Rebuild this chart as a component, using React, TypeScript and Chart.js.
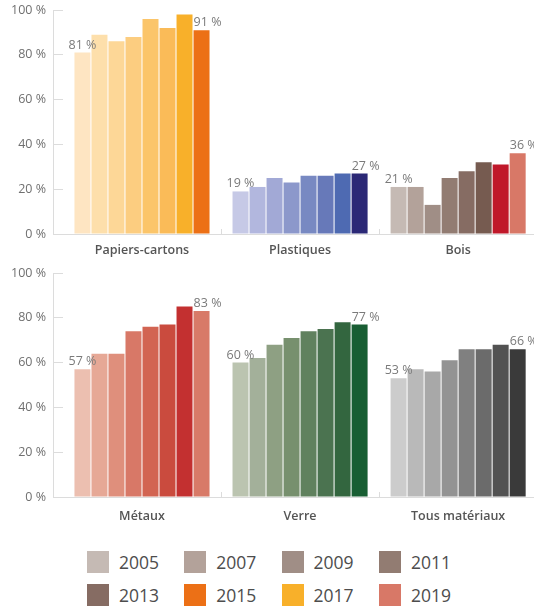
import React, { useEffect, useRef } from 'react';
import { Chart, registerables } from 'chart.js';

Chart.register(...registerables);

const YEARS = ['2005', '2007', '2009', '2011', '2013', '2015', '2017', '2019'];
const TOP_CATEGORIES = ['Papiers-cartons', 'Plastiques', 'Bois'];
const BOTTOM_CATEGORIES = ['Métaux', 'Verre', 'Tous matériaux'];

const PAPIERS = [81, 89, 86, 88, 96, 92, 98, 91];
const PLASTIQUES = [19, 21, 25, 23, 26, 26, 27, 27];
const BOIS = [21, 21, 13, 25, 28, 32, 31, 36];
const METAUX = [57, 64, 64, 74, 76, 77, 85, 83];
const VERRE = [60, 62, 68, 71, 74, 75, 78, 77];
const TOUS = [53, 57, 56, 61, 66, 66, 68, 66];

const Y_TICKS = [0, 20, 40, 60, 80, 100];

const PAPIERS_COLORS = ['#fee5c2', '#fddfab', '#fdd797', '#fccd80', '#fbc56a', '#fabb58', '#f8b02a', '#ec7016'];
const PLASTIQUES_COLORS = ['#c6c9e6', '#b2b7de', '#a2a9d6', '#8c98cb', '#7889c2', '#6779b9', '#4e6ab2', '#2b2876'];
const BOIS_COLORS = ['#c5bab4', '#b3a29a', '#a08e86', '#927c72', '#866c63', '#765b50', '#c0182a', '#d87867'];
const METAUX_COLORS = ['#ecbfb0', '#e6a896', '#df8f7c', '#d87867', '#d26452', '#ca4b3e', '#c33030', '#d87a68'];
const VERRE_COLORS = ['#bbc4b0', '#a3b09a', '#8ea083', '#77906e', '#60815e', '#4b7350', '#33663f', '#185e33'];
const TOUS_COLORS = ['#cccccc', '#b9b9b9', '#a8a8a8', '#939393', '#808080', '#6b6b6b', '#525252', '#3a3a3a'];

const LEGEND_COLORS = ['#c5bab4', '#b3a29a', '#a08e86', '#927c72', '#866c63', '#ec7016', '#f8b02a', '#d87867'];

const FONT = '"Open Sans", sans-serif';
const LINE = '#dcdcdc';

const valueLabels = {
  id: 'valueLabels',
  afterDatasetsDraw(chart: any) {
    const ctx = chart.ctx;
    ctx.save();
    ctx.font = `12.5px ${FONT}`;
    ctx.fillStyle = '#7a7a7a';
    ctx.textAlign = 'center';
    ctx.textBaseline = 'alphabetic';
    [0, YEARS.length - 1].forEach((di) => {
      const meta = chart.getDatasetMeta(di);
      meta.data.forEach((el: any, i: number) => {
        const v = chart.data.datasets[di].data[i].y;
        ctx.fillText(v + ' %', el.x + (di === 0 ? 0 : 6), el.y - 4);
      });
    });
    ctx.restore();
  },
};

function BarRow(props: {
  categories: string[];
  values: number[][];
  colors: string[][];
  padTop: number;
  axisHeight: number;
  labelPad: number;
  height: number;
}) {
  const ref = useRef<HTMLCanvasElement | null>(null);
  useEffect(() => {
    if (!ref.current) return;
    const { categories, values, colors } = props;
    const datasets = YEARS.map((year, i) => ({
      label: year,
      data: categories.map((_, j) => ({ x: j, y: values[j][i] })),
      backgroundColor: categories.map((_, j) => colors[j][i]),
      borderWidth: 0,
    }));
    const chart = new Chart(ref.current, {
      type: 'bar',
      data: { datasets },
      plugins: [valueLabels],
      options: {
        animation: false,
        responsive: false,
        maintainAspectRatio: false,
        layout: { padding: { top: props.padTop, left: 0, right: 0, bottom: 0 } },
        plugins: { legend: { display: false }, tooltip: { enabled: false } },
        datasets: { bar: { categoryPercentage: 0.861, barPercentage: 0.94 } },
        scales: {
          x: {
            type: 'linear',
            min: -0.563,
            max: 2.48,
            offset: false,
            afterBuildTicks: (s: any) => {
              s.ticks = categories.map((_, j) => ({ value: j }));
            },
            afterFit: (s: any) => {
              s.height = props.axisHeight;
              s.paddingLeft = 0;
              s.paddingRight = 0;
            },
            ticks: {
              callback: (v: any) => categories[v] ?? '',
              font: { family: FONT, size: 12.5, weight: '600' },
              color: '#555555',
              padding: props.labelPad,
              maxRotation: 0,
              autoSkip: false,
            },
            grid: {
              offset: true,
              drawOnChartArea: false,
              tickLength: -5,
              color: (ctx: any) => (ctx.index === 0 ? 'rgba(0,0,0,0)' : LINE),
            },
            border: { color: LINE, width: 1 },
          },
          y: {
            min: 0,
            max: 100,
            afterBuildTicks: (s: any) => {
              s.ticks = Y_TICKS.map((v) => ({ value: v }));
            },
            afterFit: (s: any) => {
              s.width = 53;
              s.paddingTop = 0;
              s.paddingBottom = 0;
            },
            ticks: {
              callback: (v: any) => v + ' %',
              font: { family: FONT, size: 12.5 },
              color: '#707070',
              padding: 17,
            },
            grid: { drawOnChartArea: false, tickLength: -10, color: LINE },
            border: { color: LINE, width: 1 },
          },
        },
      } as any,
    });
    return () => chart.destroy();
  }, []);
  return (
    <canvas ref={ref} width={534} height={props.height} style={{ display: 'block', width: 534, height: props.height }} />
  );
}

export default function App() {
  return (
    <div style={{ position: 'absolute', left: 0, top: 0, width: 534, height: 609, background: '#fff', fontFamily: FONT }}>
      <BarRow
        categories={TOP_CATEGORIES}
        values={[PAPIERS, PLASTIQUES, BOIS]}
        colors={[PAPIERS_COLORS, PLASTIQUES_COLORS, BOIS_COLORS]}
        padTop={10}
        axisHeight={26}
        labelPad={14}
        height={260}
      />
      <BarRow
        categories={BOTTOM_CATEGORIES}
        values={[METAUX, VERRE, TOUS]}
        colors={[METAUX_COLORS, VERRE_COLORS, TOUS_COLORS]}
        padTop={13}
        axisHeight={23}
        labelPad={17}
        height={260}
      />
      <div style={{ position: 'absolute', left: 87, top: 551, width: 400, display: 'flex', flexWrap: 'wrap', rowGap: 11 }}>
        {YEARS.map((y, i) => (
          <div key={y} style={{ width: 97.3, height: 22, display: 'flex', alignItems: 'center' }}>
            <span style={{ width: 22, height: 22, background: LEGEND_COLORS[i], display: 'inline-block', flex: 'none' }} />
            <span style={{ marginLeft: 10, fontSize: 17.5, color: '#4d4d4d', lineHeight: '22px' }}>{y}</span>
          </div>
        ))}
      </div>
    </div>
  );
}
